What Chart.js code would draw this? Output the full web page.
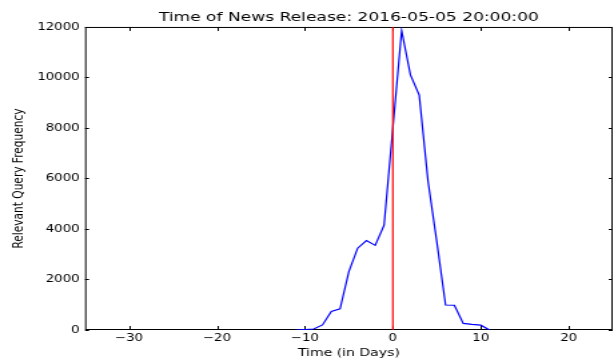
<!DOCTYPE html>
<html>
<head>
<meta charset="utf-8">
<title>Time of News Release</title>
<script src="https://cdn.jsdelivr.net/npm/chart.js@4"></script>
<style>
  html, body { margin: 0; padding: 0; background: #fff; overflow: hidden; }
  /* the original figure was stretched sideways, so draw narrow and stretch */
  #wrap { width: 460px; height: 360px; transform: scaleX(1.3348); transform-origin: 0 0; }
</style>
</head>
<body>
<div id="wrap"><canvas id="chart" width="460" height="360"></canvas></div>
<script>
'use strict';

// days relative to the news release
let days = [-11, -10, -9, -8, -7, -6, -5, -4, -3, -2, -1, 0, 1, 2, 3, 4, 5, 6, 7, 8, 9, 10, 11];
// relevant query frequency per day
let counts = [0, 20, 40, 200, 730, 840, 2310, 3240, 3540, 3350, 4150, 8000, 11850, 10100, 9300, 5900, 3500, 990, 980, 260, 220, 190, 0];

let releaseDay = 0;
let xTicks = [-30, -20, -10, 0, 10, 20];
let yTicks = [0, 2000, 4000, 6000, 8000, 10000, 12000];

Chart.defaults.font.family = 'DejaVu Sans';
Chart.defaults.color = '#000';

let points = [];
for (let i = 0; i < days.length; i++) {
  points.push({x: days[i], y: counts[i]});
}

// box around the plot with ticks pointing inwards (matplotlib classic look)
let frame = {
  id: 'frame',
  beforeDatasetsDraw(chart) {
    let ctx = chart.ctx;
    let a = chart.chartArea;
    let xs = chart.scales.x;
    let ys = chart.scales.y;
    ctx.save();
    ctx.strokeStyle = '#000';
    ctx.lineWidth = 1;
    ctx.strokeRect(a.left + 0.5, a.top + 0.5, a.right - a.left - 1, a.bottom - a.top - 1);
    ctx.beginPath();
    xTicks.forEach(v => {
      let px = Math.round(xs.getPixelForValue(v)) + 0.5;
      ctx.moveTo(px, a.bottom);
      ctx.lineTo(px, a.bottom - 4);
      ctx.moveTo(px, a.top);
      ctx.lineTo(px, a.top + 4);
    });
    yTicks.forEach(v => {
      let py = Math.round(ys.getPixelForValue(v)) + 0.5;
      ctx.moveTo(a.left, py);
      ctx.lineTo(a.left + 3, py);
      ctx.moveTo(a.right, py);
      ctx.lineTo(a.right - 3, py);
    });
    ctx.stroke();
    ctx.restore();
  }
};

let ctx = document.getElementById('chart').getContext('2d');

// eslint-disable-next-line no-unused-vars
let queryChart = new Chart(ctx, {
  type: 'line',
  data: {
    datasets: [{
      label: 'release',
      data: [{x: releaseDay, y: yTicks[0]}, {x: releaseDay, y: yTicks[yTicks.length - 1]}],
      borderColor: '#ff0000',
      borderWidth: 1.2,
      pointRadius: 0
    }, {
      label: 'queries',
      data: points,
      borderColor: '#0000ff',
      borderWidth: 1.2,
      pointRadius: 0,
      tension: 0
    }]
  },
  options: {
    responsive: false,
    animation: false,
    layout: {padding: {left: 0, right: 1, top: 0, bottom: 0}},
    plugins: {
      legend: {display: false},
      tooltip: {enabled: false},
      title: {
        display: true,
        fullSize: false, // centre over the plot, not the whole canvas
        text: 'Time of News Release: 2016-05-05 20:00:00',
        color: '#000',
        font: {size: 12.8, weight: 'normal'},
        padding: {top: 10, bottom: 1.6}
      }
    },
    scales: {
      x: {
        type: 'linear',
        min: -35,
        max: 25,
        afterBuildTicks: s => { s.ticks = xTicks.map(v => ({value: v})); },
        afterFit: s => { s.height = 30; },
        grid: {display: false, drawTicks: false},
        border: {display: false},
        ticks: {
          padding: 2,
          font: {size: 10},
          callback: v => String(v).replace('-', '\u2212')
        },
        title: {
          display: true,
          text: 'Time (in Days)',
          font: {size: 10.5},
          padding: {top: 0, bottom: 0}
        }
      },
      y: {
        min: 0,
        max: 12000,
        afterBuildTicks: s => { s.ticks = yTicks.map(v => ({value: v})); },
        afterFit: s => { s.width = 63.7; },
        grid: {display: false, drawTicks: false},
        border: {display: false},
        ticks: {padding: 4, font: {size: 10}, callback: v => String(v)},
        title: {
          display: true,
          text: 'Relevant Query Frequency',
          font: {size: 10.6},
          padding: {top: 7.4, bottom: 0}
        }
      }
    }
  },
  plugins: [frame]
});
</script>
</body>
</html>
